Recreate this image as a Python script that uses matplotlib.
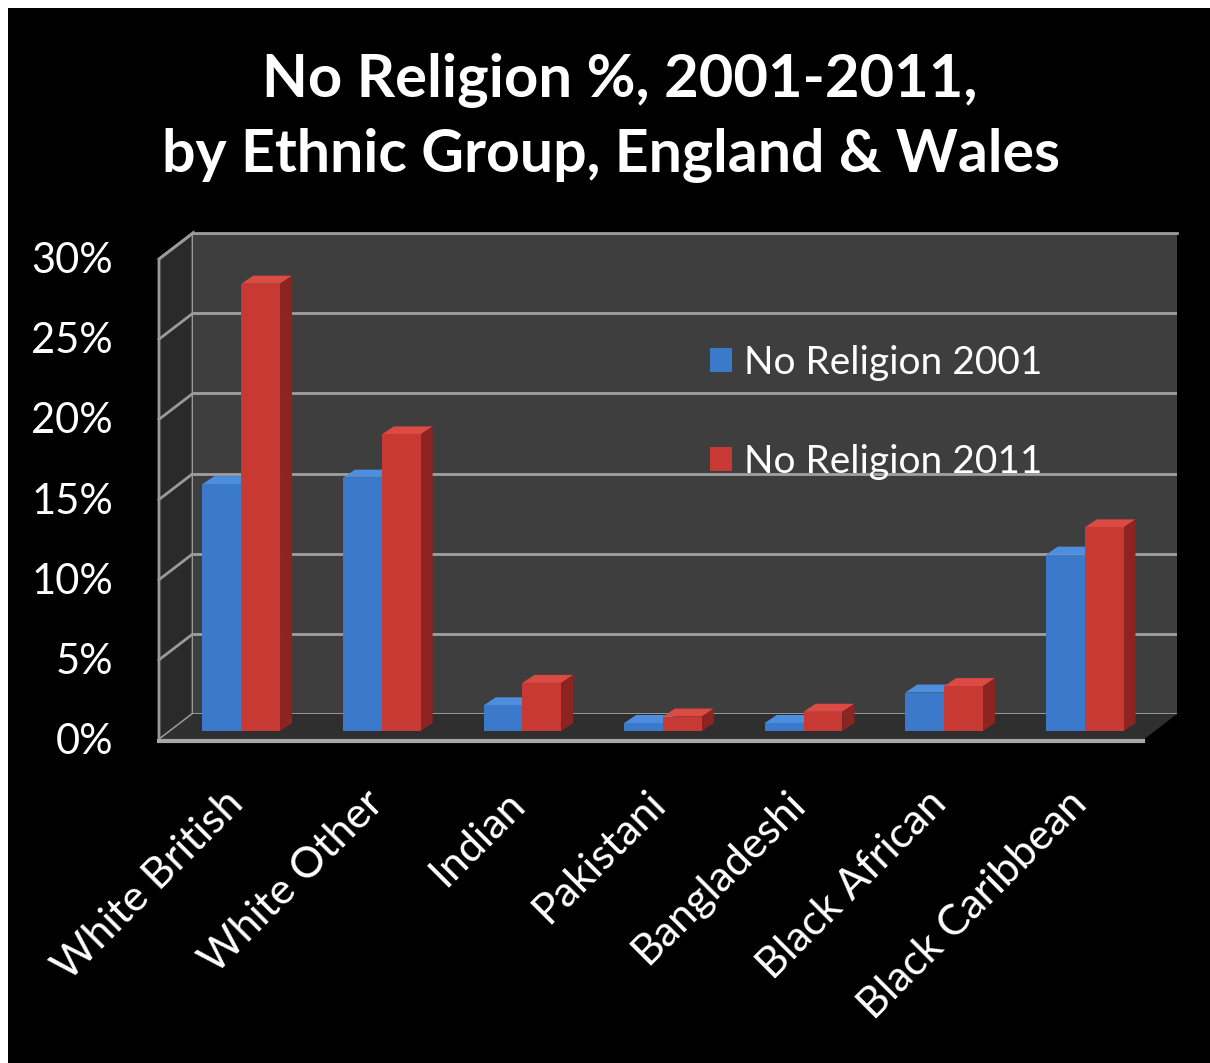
import matplotlib
matplotlib.use('Agg')
import matplotlib.pyplot as plt
import numpy as np
from matplotlib.patches import Polygon, Rectangle
from matplotlib.lines import Line2D
from matplotlib.transforms import IdentityTransform, ScaledTranslation

# values (%)
groups = ['White British', 'White Other', 'Indian', 'Pakistani',
          'Bangladeshi', 'Black African', 'Black Caribbean']
nr_2001 = [15.4, 15.8, 1.6, 0.5, 0.5, 2.4, 11.0]
nr_2011 = [27.9, 18.5, 3.0, 0.9, 1.2, 2.8, 12.7]
series_labels = ['No Religion 2001', 'No Religion 2011']
yticks = [0, 5, 10, 15, 20, 25, 30]
ytick_labels = ['0%', '5%', '10%', '15%', '20%', '25%', '30%']

FONT = 'Lato'
W, H, DPI = 1210, 1063, 100

fig = plt.figure(figsize=(W / DPI, H / DPI), dpi=DPI, facecolor='white')
# black slide background (thin white margin top/left)
fig.add_artist(Rectangle((8 / W, 0), 1, (H - 8) / H, transform=fig.transFigure,
                         facecolor='black', edgecolor='none', zorder=-10))

# back wall of the 3d box
ax = fig.add_axes([193 / W, (H - 714) / H, 984 / W, 481 / H])
ax.set_facecolor('#3e3e3e')
ax.set_xlim(-0.5, len(groups) - 0.5)
ax.set_ylim(0, 30)
for s in ax.spines.values():
    s.set_visible(False)
ax.spines['top'].set_visible(True)
ax.spines['top'].set_color('#9a9a9a')
ax.spines['top'].set_linewidth(2)
ax.set_xticks([])
ax.set_yticks(yticks)
ax.tick_params(left=False, labelleft=False)
ax.yaxis.grid(True, color='#a0a0a0', linewidth=2)
ax.set_axisbelow(True)

# depth vectors in pixels (display coords, y up)
D = np.array([-34.0, -26.0])       # back wall -> front edge
DB = np.array([-22.0, -17.0])      # back wall -> bar front face
BD = np.array([12.0, 8.0])         # bar depth (side / top)


def px(x, y):
    return ax.transData.transform((x, y))


ident = IdentityTransform()
x0, x1 = ax.get_xlim()

# side wall
bl, tl = px(x0, 0), px(x0, 30)
fig.add_artist(Polygon([bl, tl, tl + D, bl + D], closed=True, transform=ident,
                       facecolor='#2a2a2a', edgecolor='#9a9a9a', lw=2, zorder=-1))
for t in yticks:
    p = px(x0, t)
    fig.add_artist(Line2D([p[0], p[0] + D[0]], [p[1], p[1] + D[1]],
                          transform=ident, color='#9a9a9a', lw=2, zorder=-1))

# floor
br = px(x1, 0)
fig.add_artist(Polygon([bl, br, br + D, bl + D], closed=True, transform=ident,
                       facecolor='#2f2f2f', edgecolor='none', zorder=-1))
fig.add_artist(Line2D([bl[0] + D[0], br[0] + D[0]], [bl[1] + D[1] - 1, br[1] + D[1] - 1],
                      transform=ident, color='#a8a8a8', lw=3, zorder=-1))

# bars
x = np.arange(len(groups))
bw = 0.276
off = ScaledTranslation(DB[0] / DPI, DB[1] / DPI, fig.dpi_scale_trans)
styles = [('#3b7acb', '#4d8ede', '#28599c'), ('#c93934', '#dc4a44', '#8e2421')]
containers = []
for k, (vals, (c_front, c_top, c_side)) in enumerate(zip([nr_2001, nr_2011], styles)):
    xs = x + (k - 0.5) * bw
    bars = ax.bar(xs, vals, width=bw, color=c_front, transform=ax.transData + off,
                  clip_on=False, zorder=3, label=series_labels[k])
    containers.append(bars)
    for xc, v in zip(xs, vals):
        a = px(xc - bw / 2, v) + DB
        b = px(xc + bw / 2, v) + DB
        c = px(xc + bw / 2, 0) + DB
        ax.add_artist(Polygon([a, b, b + BD, a + BD], closed=True, transform=ident,
                              facecolor=c_top, edgecolor='none', zorder=2.9, clip_on=False))
        ax.add_artist(Polygon([b, c, c + BD, b + BD], closed=True, transform=ident,
                              facecolor=c_side, edgecolor='none', zorder=2.9, clip_on=False))

# y tick labels at the front edge
ylab_tr = ax.get_yaxis_transform() + ScaledTranslation((D[0] - 46) / DPI, D[1] / DPI - 0.02,
                                                       fig.dpi_scale_trans)
for t, lab in zip(yticks, ytick_labels):
    ax.text(0, t, lab, transform=ylab_tr, ha='right', va='center', color='white',
            fontsize=30, family=FONT, clip_on=False)

# category labels
xlab_tr = ax.get_xaxis_transform() + ScaledTranslation(-40 / DPI, -70 / DPI, fig.dpi_scale_trans)
for xi, g in zip(x, groups):
    ax.text(xi, 0, g, transform=xlab_tr, rotation=45, rotation_mode='anchor',
            ha='right', va='top', color='white', fontsize=31, family=FONT, clip_on=False)

leg = ax.legend(handles=containers, loc='upper left',
                bbox_to_anchor=(675 / W, 1 - 310 / H), bbox_transform=fig.transFigure,
                frameon=False, labelspacing=1.62,
                handlelength=0.57, handleheight=0.57, handletextpad=0.3,
                prop={'family': FONT, 'size': 28})
for t in leg.get_texts():
    t.set_color('white')

fig.text(0.512, 1 - 97 / H, 'No Religion %, 2001-2011,', ha='center', va='baseline',
         color='white', fontsize=43, fontweight='bold', family=FONT)
fig.text(0.505, 1 - 172 / H, 'by Ethnic Group, England & Wales', ha='center', va='baseline',
         color='white', fontsize=42.5, fontweight='bold', family=FONT)

fig.savefig('out.png', dpi=DPI, facecolor=fig.get_facecolor())
